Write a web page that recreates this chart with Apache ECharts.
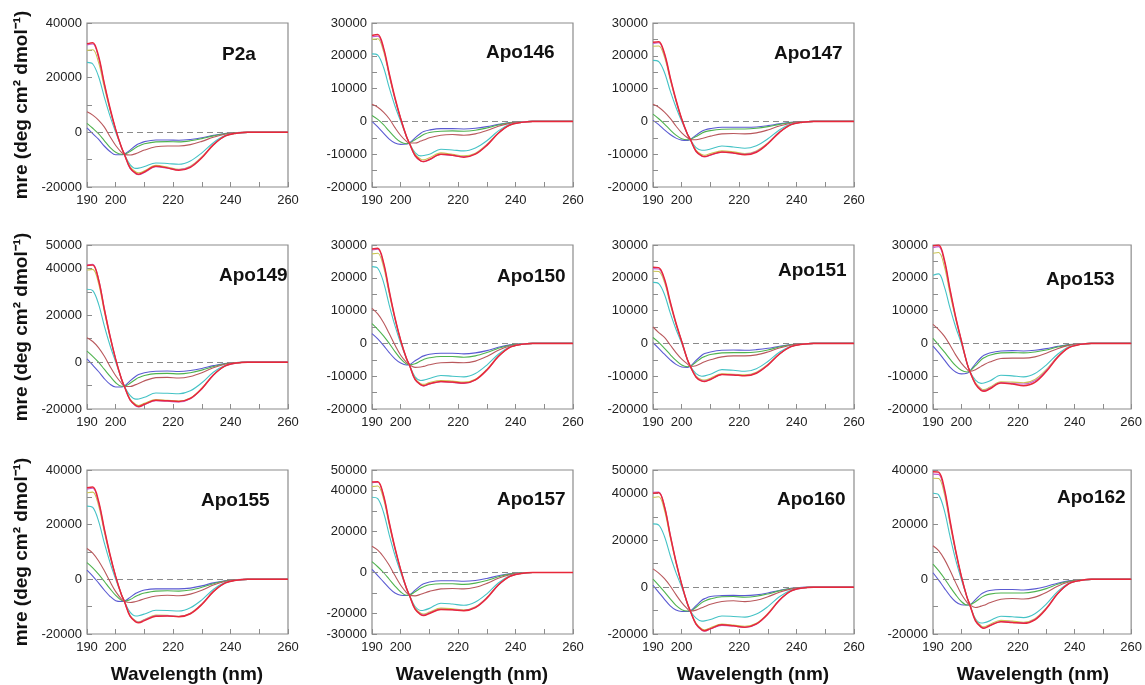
<!DOCTYPE html>
<html>
<head>
<meta charset="utf-8">
<script src="https://cdn.jsdelivr.net/npm/echarts/dist/echarts.min.js"></script>
<style>
html,body{margin:0;padding:0;background:#fff;}
#main{width:1145px;height:685px;}
</style>
</head>
<body>
<div id="main"></div>
<script>
var wavelengths = [190,192,194,196,198,200,202,203,205,207,208,210,214,218,222,226,230,234,238,242,246,260];
var xLabelled = [190,200,220,240,260];
var panelNames = ['P2a','Apo146','Apo147','Apo149','Apo150','Apo151','Apo153','Apo155','Apo157','Apo160','Apo162'];
var yMin = [-20000,-20000,-20000,-20000,-20000,-20000,-20000,-20000,-30000,-20000,-20000];
var yMax = [40000,30000,30000,50000,30000,30000,30000,40000,50000,50000,40000];
var yTickStep = [10000,5000,5000,10000,5000,5000,5000,10000,10000,10000,10000];
var yLabelStep = [20000,10000,10000,20000,10000,10000,10000,20000,20000,20000,20000];

// mre in 1000 deg cm2 dmol-1; curves: blue, green, brown, cyan, olive, violet, red
var mreP2a = [
  [1.6,-0.5,-2.5,-5,-7,-8.2,-8.2,-8,-6.5,-4.8,-4.2,-3.4,-2.8,-2.8,-2.9,-2.6,-2,-1.1,-0.4,-0.1,0,0],
  [3.3,1.5,-0.5,-3,-5.5,-7.3,-8,-8,-7,-5.6,-5,-4.2,-3.5,-3.4,-3.5,-3.1,-2.3,-1.3,-0.5,-0.1,0,0],
  [7.5,6.3,4.5,2,-1.5,-4.8,-7.3,-8,-8.3,-7.8,-7.4,-6.5,-5.3,-5,-5,-4.5,-3.3,-1.8,-0.7,-0.2,0,0],
  [25.6,25,20.5,13,6,0,-5.5,-8,-11.8,-13.2,-13.1,-12.5,-11.2,-11.4,-11.7,-10.5,-7.5,-3.8,-1.2,-0.3,0,0],
  [30,30.2,25.7,16.6,8.2,0.9,-5.5,-8,-12.6,-14.5,-14.8,-14.1,-12.1,-12.7,-13.5,-12.4,-9,-4.5,-1.4,-0.35,0,0],
  [32,32.3,27.5,17.8,8.7,1,-5.5,-8,-13.2,-15.2,-15.5,-14.7,-12.6,-13.1,-13.7,-12.6,-9.2,-4.5,-1.4,-0.35,0,0],
  [32.4,32.8,27.9,18,8.9,1,-5.5,-8,-13,-15,-15.3,-14.5,-12.4,-13,-13.9,-12.8,-9.3,-4.6,-1.4,-0.35,0,0]
];
var mreApo146 = [
  [0,-1.7,-3.6,-5.4,-6.6,-7,-6.9,-6.6,-5,-3.6,-3.1,-2.6,-2.2,-2.2,-2.3,-2.1,-1.6,-0.9,-0.35,-0.1,0,0],
  [1.8,0.6,-1,-3,-4.9,-6.3,-6.8,-6.6,-5.6,-4.5,-4,-3.4,-3,-2.9,-3,-2.7,-2,-1.1,-0.4,-0.1,0,0],
  [5.2,4.3,2.8,0.8,-1.9,-4.3,-6.1,-6.6,-6.6,-6,-5.7,-5,-4.2,-4,-4.2,-3.8,-2.8,-1.5,-0.6,-0.15,0,0],
  [20.6,20.2,16.5,10.3,4.7,0,-4.6,-6.6,-9.5,-10.5,-10.4,-10,-8.5,-8.7,-9,-8.1,-5.9,-2.9,-0.9,-0.2,0,0],
  [25,25.2,21.4,13.9,6.8,0.8,-4.6,-6.6,-10,-11.5,-11.7,-11.1,-9.6,-10,-10.5,-9.7,-7,-3.5,-1.1,-0.3,0,0],
  [25.8,26,22.1,14.3,7,0.8,-4.6,-6.6,-10.5,-12.1,-12.3,-11.7,-10.1,-10.4,-10.8,-9.9,-7.2,-3.6,-1.1,-0.3,0,0],
  [26.2,26.5,22.5,14.6,7.2,0.8,-4.6,-6.6,-10.4,-12,-12.2,-11.6,-10,-10.3,-10.9,-10,-7.3,-3.6,-1.1,-0.3,0,0]
];
var mreApo147 = [
  [0.3,-1,-2.6,-4,-5.1,-5.7,-5.8,-5.5,-4.2,-3,-2.6,-2.2,-1.8,-1.8,-1.8,-1.7,-1.3,-0.75,-0.3,-0.1,0,0],
  [2.2,0.8,-0.8,-2.6,-4.2,-5.3,-5.6,-5.5,-4.6,-3.6,-3.2,-2.8,-2.4,-2.3,-2.3,-2.1,-1.6,-0.9,-0.35,-0.1,0,0],
  [5.2,4.3,2.8,0.9,-1.4,-3.5,-5,-5.5,-5.6,-5.2,-5,-4.5,-3.8,-3.7,-3.8,-3.5,-2.6,-1.4,-0.55,-0.15,0,0],
  [18.6,18.2,14.9,9.3,4.3,0,-3.9,-5.5,-8,-8.8,-8.8,-8.4,-7.5,-7.8,-8.2,-7.4,-5.3,-2.6,-0.8,-0.2,0,0],
  [22.9,23,19.6,12.7,6.2,0.7,-3.9,-5.5,-8.8,-10.1,-10.3,-9.8,-9,-9.3,-9.8,-9,-6.6,-3.2,-1,-0.25,0,0],
  [23.8,24,20.4,13.2,6.5,0.7,-3.9,-5.5,-9.2,-10.6,-10.8,-10.3,-9.4,-9.7,-10,-9.2,-6.7,-3.3,-1,-0.25,0,0],
  [24.1,24.3,20.7,13.4,6.6,0.7,-3.9,-5.5,-9.1,-10.5,-10.7,-10.2,-9.3,-9.6,-10.2,-9.4,-6.8,-3.4,-1,-0.25,0,0]
];
var mreApo149 = [
  [1.4,-1.3,-4,-7,-9.4,-10.6,-10.6,-10.3,-8,-6,-5.3,-4.5,-3.9,-3.8,-4,-3.6,-2.7,-1.5,-0.55,-0.15,0,0],
  [4.7,2.5,0,-3,-6,-8.8,-10.3,-10.3,-9,-7.3,-6.6,-5.7,-4.9,-4.8,-5,-4.5,-3.4,-1.9,-0.7,-0.2,0,0],
  [10.4,8.8,6.2,2.6,-1.8,-5.8,-9,-10.3,-10.4,-9.6,-9.1,-8,-6.6,-6.5,-6.8,-6.1,-4.5,-2.4,-0.9,-0.25,0,0],
  [31.1,30.5,24.9,15.6,7.2,0,-7.2,-10.3,-14.2,-15.8,-15.7,-15,-13.2,-13.3,-13.5,-12.2,-8.8,-4.3,-1.4,-0.35,0,0],
  [39.3,39.6,33.7,21.8,10.7,1.1,-7.2,-10.3,-15.7,-18.1,-18.5,-17.6,-16,-16.3,-16.6,-15.3,-11.1,-5.5,-1.7,-0.4,0,0],
  [41.5,41.8,35.5,23,11.3,1.2,-7.2,-10.3,-16.2,-18.7,-19.1,-18.2,-16.5,-16.7,-17,-15.6,-11.4,-5.6,-1.7,-0.4,0,0],
  [41.3,41.5,35.3,22.8,11.2,1.2,-7.2,-10.3,-16.1,-18.5,-18.9,-18,-16.3,-16.5,-16.8,-15.5,-11.3,-5.5,-1.7,-0.4,0,0]
];
var mreApo150 = [
  [3,1.4,-0.6,-2.8,-4.7,-6,-6.6,-6.5,-5.3,-4.2,-3.8,-3.3,-3,-3,-3.2,-2.9,-2.2,-1.2,-0.45,-0.1,0,0],
  [6,4.3,2.3,0,-2.5,-4.7,-6.3,-6.5,-6.2,-5.3,-4.9,-4.4,-4,-4,-4.2,-3.8,-2.8,-1.5,-0.55,-0.15,0,0],
  [10.7,9,6.4,3,-0.5,-3.6,-5.8,-6.5,-7.3,-7.2,-7,-6.5,-5.9,-5.8,-5.9,-5.4,-4,-2.1,-0.8,-0.2,0,0],
  [23.4,22.9,18.7,11.7,5.4,0,-4.6,-6.5,-10.2,-11.3,-11.2,-10.7,-9.8,-10,-10.2,-9.2,-6.6,-3.3,-1,-0.25,0,0],
  [27.3,27.5,23.4,15.1,7.4,0.8,-4.6,-6.5,-10.7,-12.3,-12.5,-11.9,-11.3,-11.5,-11.8,-10.9,-7.9,-3.9,-1.2,-0.3,0,0],
  [28.5,28.7,24.4,15.8,7.7,0.9,-4.6,-6.5,-11.1,-12.7,-13,-12.4,-11.7,-11.9,-12.2,-11.2,-8.2,-4,-1.2,-0.3,0,0],
  [28.8,29,24.7,16,7.8,0.9,-4.6,-6.5,-11,-12.6,-12.9,-12.3,-11.6,-11.8,-12.1,-11.1,-8.1,-4,-1.2,-0.3,0,0]
];
var mreApo151 = [
  [0.2,-1.5,-3.3,-5,-6.4,-7.2,-7.3,-7,-5.2,-3.6,-3.1,-2.6,-2.1,-2,-2.1,-1.9,-1.5,-0.85,-0.35,-0.1,0,0],
  [1.8,0.3,-1.5,-3.4,-5.2,-6.6,-7.1,-7,-5.7,-4.4,-4,-3.4,-2.9,-2.8,-2.8,-2.6,-2,-1.1,-0.4,-0.1,0,0],
  [5,3.3,1.8,-0.5,-2.8,-4.8,-6.3,-7,-6.8,-6,-5.6,-5,-4.1,-3.8,-3.8,-3.5,-2.6,-1.4,-0.55,-0.15,0,0],
  [18.6,18.2,14.9,9.3,4.3,0,-5,-7,-9.2,-10,-9.9,-9.4,-8,-8.2,-8.5,-7.7,-5.5,-2.7,-0.85,-0.2,0,0],
  [22,21.9,18.6,12,5.9,0.6,-5,-7,-10,-11.1,-11.2,-10.6,-9.3,-9.4,-9.6,-8.8,-6.4,-3.2,-1,-0.25,0,0],
  [22.8,22.7,19.3,12.5,6.1,0.6,-5,-7,-10.2,-11.4,-11.5,-10.9,-9.5,-9.6,-9.8,-9,-6.6,-3.2,-1,-0.25,0,0],
  [23.2,23.1,19.6,12.7,6.2,0.6,-5,-7,-10.3,-11.5,-11.6,-11,-9.5,-9.6,-9.9,-9.1,-6.6,-3.3,-1,-0.25,0,0]
];
var mreApo153 = [
  [-0.8,-2.8,-5,-7.2,-8.7,-9.3,-9.1,-8.5,-6.2,-4.3,-3.6,-2.9,-2.3,-2.2,-2.3,-2.1,-1.6,-0.9,-0.35,-0.1,0,0],
  [1.5,-0.5,-2.6,-4.8,-6.8,-8.2,-8.7,-8.5,-6.8,-5,-4.4,-3.6,-2.9,-2.8,-2.9,-2.6,-2,-1.1,-0.45,-0.1,0,0],
  [5.8,4.2,2.2,-0.5,-3.5,-6,-7.9,-8.5,-8,-7,-6.5,-5.7,-4.6,-4.5,-4.5,-4.1,-3,-1.6,-0.6,-0.15,0,0],
  [20.8,21.2,17.3,10.8,5,0,-6,-8.5,-11.2,-12.2,-12.1,-11.5,-9.7,-9.9,-10.2,-9.2,-6.6,-3.3,-1,-0.25,0,0],
  [27.5,27.7,23.5,15.2,7.5,0.8,-6,-8.5,-12,-13.8,-14.1,-13.4,-11.7,-11.8,-12,-11,-8,-4,-1.2,-0.3,0,0],
  [29.2,29.5,25.1,16.2,8,0.9,-6,-8.5,-12.3,-14.1,-14.4,-13.7,-12,-12.2,-12.4,-11.4,-8.3,-4.1,-1.3,-0.3,0,0],
  [29.8,30,25.5,16.5,8.1,0.9,-6,-8.5,-12.4,-14.3,-14.6,-13.9,-12.1,-12.4,-12.9,-11.9,-8.6,-4.3,-1.3,-0.3,0,0]
];
var mreApo155 = [
  [3.4,1.2,-1.3,-3.9,-6.2,-7.8,-8.1,-8,-6.6,-5.1,-4.6,-3.9,-3.5,-3.5,-3.5,-3.2,-2.4,-1.3,-0.5,-0.1,0,0],
  [6.1,4.2,1.9,-0.7,-3.4,-5.9,-7.7,-8,-7.4,-6.2,-5.7,-5,-4.3,-4.2,-4.3,-3.9,-2.9,-1.6,-0.6,-0.15,0,0],
  [11.3,9.6,6.8,3.2,-0.8,-4.5,-7.2,-8,-8.5,-8.1,-7.8,-7.1,-6.1,-5.8,-6,-5.4,-4,-2.1,-0.8,-0.2,0,0],
  [26.8,26.3,21.4,13.4,6.2,0,-5.6,-8,-12,-13.4,-13.3,-12.7,-11.3,-11.4,-11.6,-10.4,-7.5,-3.7,-1.2,-0.3,0,0],
  [31.7,31.9,27.1,17.5,8.6,0.9,-5.6,-8,-13.2,-15.2,-15.5,-14.7,-13.1,-13.2,-13.5,-12.4,-9,-4.5,-1.4,-0.35,0,0],
  [33,33.3,28.3,18.3,9,1,-5.6,-8,-13.4,-15.4,-15.7,-14.9,-13.3,-13.3,-13.6,-12.5,-9.1,-4.5,-1.4,-0.35,0,0],
  [33.5,33.8,28.7,18.6,9.1,1,-5.6,-8,-13.5,-15.6,-15.9,-15.1,-13.5,-13.4,-13.7,-12.6,-9.2,-4.5,-1.4,-0.35,0,0]
];
var mreApo157 = [
  [1.5,-1.5,-4.6,-7.6,-10,-11.1,-11.2,-11,-8.6,-6.3,-5.5,-4.6,-4,-4,-4.3,-3.9,-2.9,-1.6,-0.6,-0.15,0,0],
  [5.3,2.8,0,-3.3,-6.6,-9.5,-11.1,-11,-9.4,-7.6,-6.9,-6,-5.5,-5.5,-5.8,-5.2,-3.9,-2.1,-0.8,-0.2,0,0],
  [12.8,10.9,7.7,3.5,-1.5,-6.2,-9.8,-11,-11.4,-10.6,-10.1,-9.2,-8,-7.8,-8,-7.2,-5.3,-2.8,-1.1,-0.3,0,0],
  [36.7,36,29.4,18.4,8.4,0,-7.7,-11,-16.6,-18.5,-18.4,-17.5,-15,-15.4,-16,-14.4,-10.4,-5.1,-1.6,-0.4,0,0],
  [41.9,42.2,35.9,23.2,11.4,1.2,-7.7,-11,-17.3,-19.9,-20.3,-19.3,-17.4,-17.7,-18.2,-16.7,-12.2,-6,-1.8,-0.45,0,0],
  [43.8,44,37.4,24.2,11.9,1.3,-7.7,-11,-17.8,-20.4,-20.8,-19.8,-17.9,-18.1,-18.5,-17,-12.4,-6.1,-1.9,-0.45,0,0],
  [44.1,44.3,37.7,24.4,12,1.3,-7.7,-11,-17.9,-20.6,-21,-20,-18,-18.2,-18.6,-17.1,-12.5,-6.1,-1.9,-0.45,0,0]
];
var mreApo160 = [
  [0.8,-2.2,-5.2,-8,-9.8,-10.4,-10.4,-10.2,-7.9,-5.6,-4.9,-4,-3.6,-3.5,-3.6,-3.3,-2.5,-1.4,-0.5,-0.1,0,0],
  [3.4,0.8,-2,-5,-7.8,-9.6,-10.2,-10.2,-8.6,-6.6,-5.9,-5,-4.1,-4,-4.3,-3.9,-2.9,-1.6,-0.6,-0.15,0,0],
  [7.8,6,3.6,0.5,-3.2,-6.6,-9.3,-10.2,-9.8,-8.8,-8.3,-7.3,-6.1,-5.8,-6.2,-5.6,-4.1,-2.2,-0.85,-0.2,0,0],
  [27,26.5,21.6,13.5,6.2,0,-7.1,-10.2,-13.2,-14.5,-14.4,-13.8,-12.3,-12.5,-12.8,-11.5,-8.3,-4.1,-1.3,-0.3,0,0],
  [38.3,38.6,32.8,21.2,10.4,1.2,-7.1,-10.2,-15.4,-17.8,-18.2,-17.3,-15.8,-16.2,-16.7,-15.4,-11.2,-5.5,-1.7,-0.4,0,0],
  [40.5,40.6,34.5,22.3,11,1.2,-7.1,-10.2,-15.9,-18.4,-18.8,-17.9,-16.3,-16.6,-17.2,-15.8,-11.5,-5.7,-1.7,-0.4,0,0],
  [40.1,40.3,34.3,22.2,10.9,1.2,-7.1,-10.2,-15.8,-18.2,-18.6,-17.7,-16.1,-16.5,-17.1,-15.7,-11.5,-5.6,-1.7,-0.4,0,0]
];
var mreApo162 = [
  [2.4,-0.3,-3.2,-6,-8.2,-9.3,-9.4,-9.3,-7.4,-5.4,-4.8,-4.1,-3.7,-3.7,-3.9,-3.5,-2.6,-1.4,-0.55,-0.15,0,0],
  [5.6,3.2,0.4,-2.7,-5.6,-8.1,-9.4,-9.3,-8.2,-6.7,-6.1,-5.4,-5,-5,-5,-4.5,-3.4,-1.8,-0.7,-0.2,0,0],
  [12.3,10.5,7.4,3.3,-1.2,-5.4,-8.4,-9.3,-10.3,-9.8,-9.5,-8.6,-7.3,-7,-7.2,-6.5,-4.8,-2.5,-1,-0.25,0,0],
  [31.5,30.9,25.2,15.8,7.2,0,-6.5,-9.3,-14.4,-16,-15.9,-15.2,-13.5,-13.7,-14,-12.6,-9.1,-4.5,-1.4,-0.35,0,0],
  [37,36.9,31.4,20.3,10,1.1,-6.5,-9.3,-14.8,-17,-17.4,-16.5,-15,-15.3,-15.7,-14.4,-10.5,-5.2,-1.6,-0.4,0,0],
  [38.5,38.4,32.6,21.1,10.4,1.1,-6.5,-9.3,-15.1,-17.4,-17.8,-16.9,-15.4,-15.7,-16,-14.7,-10.7,-5.3,-1.6,-0.4,0,0],
  [39.4,39.2,33.3,21.6,10.6,1.2,-6.5,-9.3,-15.2,-17.5,-17.9,-17,-15.5,-15.8,-16.1,-14.8,-10.8,-5.3,-1.6,-0.4,0,0]
];
var panelData = [mreP2a, mreApo146, mreApo147, mreApo149, mreApo150, mreApo151, mreApo153, mreApo155, mreApo157, mreApo160, mreApo162];

// layout
var FONT = '"Liberation Sans", Arial, Helvetica, sans-serif';
var curveColors = ['#5a5ad2', '#4fb34f', '#b9585c', '#45c3c6', '#c9c454', '#c45ccc', '#e8283a'];
var panelLeft = [87, 372, 653, 87, 372, 653, 933, 87, 372, 653, 933];
var panelTop = [23, 23, 23, 245, 245, 245, 245, 470, 470, 470, 470];
var plotW = 201, plotH = 164;
var titleX = [222, 486, 774, 219, 497, 778, 1046, 201, 497, 777, 1057];
var titleY = [55, 53, 54, 276, 277, 271, 280, 501, 500, 500, 498];
var frame = '#8c8c8c';

var myChart = echarts.init(document.getElementById('main'));
var grids = [], xAxes = [], yAxes = [], series = [], texts = [];

panelNames.forEach(function (name, i) {
  grids.push({
    left: panelLeft[i], top: panelTop[i], width: plotW, height: plotH,
    show: true, borderColor: frame, borderWidth: 1.2, backgroundColor: 'transparent'
  });
  xAxes.push({
    type: 'value', gridIndex: i, position: 'bottom', min: 190, max: 260, interval: 10,
    axisLine: {show: false, onZero: false},
    splitLine: {show: false},
    axisTick: {inside: true, length: 5, lineStyle: {color: frame}},
    axisLabel: {
      fontSize: 13, color: '#222', margin: 7, fontFamily: FONT,
      formatter: function (v) { return xLabelled.indexOf(v) >= 0 ? String(v) : ''; }
    }
  });
  yAxes.push({
    type: 'value', gridIndex: i, position: 'left', min: yMin[i], max: yMax[i], interval: yTickStep[i],
    axisLine: {show: false, onZero: false},
    splitLine: {show: false},
    axisTick: {inside: true, length: 5, lineStyle: {color: frame}},
    axisLabel: {
      fontSize: 13, color: '#222', margin: 5, fontFamily: FONT,
      formatter: function (v) {
        return (v % yLabelStep[i] === 0 || v === yMin[i] || v === yMax[i]) ? String(v) : '';
      }
    }
  });
  panelData[i].forEach(function (curve, k) {
    var s = {
      type: 'line', xAxisIndex: i, yAxisIndex: i,
      showSymbol: false, smooth: 0.35, silent: true,
      data: wavelengths.map(function (w, j) { return [w, curve[j] * 1000]; }),
      lineStyle: {color: curveColors[k], width: k === 6 ? 1.5 : 1.1},
      z: 3 + k
    };
    if (k === 0) {
      s.markLine = {
        silent: true, symbol: 'none', label: {show: false},
        lineStyle: {color: '#8a8a8a', type: [6, 4], width: 1.2},
        data: [{yAxis: 0}]
      };
    }
    series.push(s);
  });
  texts.push({
    type: 'text', x: titleX[i], y: titleY[i], z: 50,
    style: {text: name, fill: '#111', font: 'bold 19px ' + FONT, align: 'left', verticalAlign: 'middle'}
  });
});

// axis titles
[105, 327, 552].forEach(function (cy) {
  texts.push({
    type: 'text', x: 22, y: cy, rotation: Math.PI / 2, z: 50,
    style: {text: 'mre (deg cm\u00b2 dmol\u207b\u00b9)', fill: '#111', font: 'bold 19px ' + FONT, align: 'center', verticalAlign: 'middle'}
  });
});
[187, 472, 753, 1033].forEach(function (cx) {
  texts.push({
    type: 'text', x: cx, y: 675, z: 50,
    style: {text: 'Wavelength (nm)', fill: '#111', font: 'bold 19px ' + FONT, align: 'center', verticalAlign: 'middle'}
  });
});

myChart.setOption({
  animation: false,
  backgroundColor: '#fff',
  grid: grids,
  xAxis: xAxes,
  yAxis: yAxes,
  series: series,
  graphic: texts
});
</script>
</body>
</html>
